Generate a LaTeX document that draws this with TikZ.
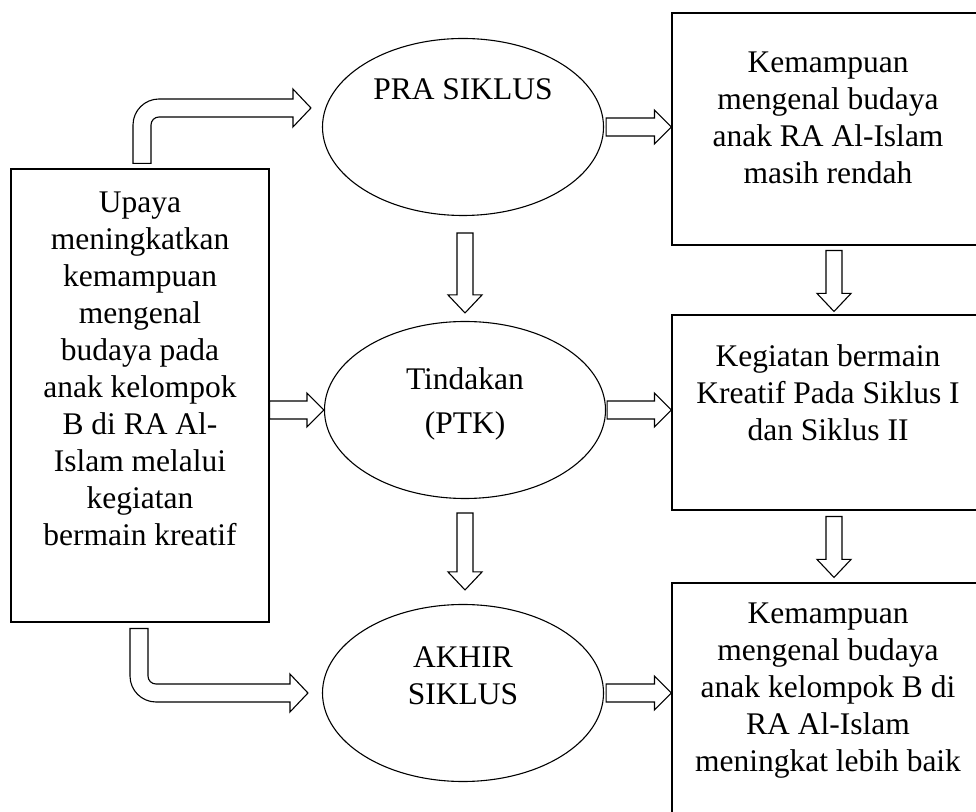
\documentclass[tikz,border=0pt]{standalone}
\usepackage{fontspec}
\setmainfont{Liberation Serif}
\usetikzlibrary{shapes.geometric,calc}

\begin{document}
\begin{tikzpicture}[x=1pt, y=1pt, line width=1.1pt,
	box/.style = {draw, rectangle, inner sep=0pt, minimum width=312pt},
	oval/.style = {draw, ellipse, inner sep=0pt, minimum width=281pt, minimum height=177pt},
	txt/.style = {align=center, inner sep=0pt, font=\fontsize{31.5}{37}\selectfont},
	hollowh/.style = {to path={let \p1=(\tikztostart), \p2=(\tikztotarget) in
		(\x1,{\y1+9}) -- ({\x2-17},{\y1+9}) -- ({\x2-17},{\y1+17}) -- (\x2,\y1)
		-- ({\x2-17},{\y1-17}) -- ({\x2-17},{\y1-9}) -- (\x1,{\y1-9}) -- cycle}},
	hollowv/.style = {to path={let \p1=(\tikztostart), \p2=(\tikztotarget) in
		({\x1-8},\y1) -- ({\x1-8},{\y2+18}) -- ({\x1-17},{\y2+18}) -- (\x1,\y2)
		-- ({\x1+17},{\y2+18}) -- ({\x1+8},{\y2+18}) -- ({\x1+8},\y1) -- cycle}},
	hollowbend/.style = {to path={let \p1=(\tikztostart), \p2=(\tikztotarget) in
		({\x1+9},\y1) -- ({\x1+9},{\y2-(#1)*17})
		arc[start angle=180, end angle={180-90*(#1)}, radius=8pt]
		-- ({\x2-18},{\y2-(#1)*9}) -- ({\x2-18},{\y2-(#1)*19}) -- (\x2,\y2)
		-- ({\x2-18},{\y2+(#1)*19}) -- ({\x2-18},{\y2+(#1)*9}) -- ({\x1+17},{\y2+(#1)*9})
		arc[start angle={90*(#1)}, end angle={180*(#1)}, radius=26pt]
		-- ({\x1-9},\y1) -- cycle}}]

	\useasboundingbox (0,0) rectangle (976,811);
	\clip (0,0) rectangle (976,811);

	\node[box, minimum width=258pt, minimum height=453pt,
		label={[txt, anchor=north, yshift=-23pt]north:Upaya\\meningkatkan\\kemampuan\\mengenal\\budaya pada\\anak kelompok\\B di RA Al-\\Islam melalui\\kegiatan\\bermain kreatif}] (U) at (140,415.5) {};

	\node[oval, label={[txt, yshift=38pt]center:PRA SIKLUS}] (P) at (463,684) {};
	\node[oval, label={[txt, yshift=6pt]center:Tindakan\\[7pt](PTK)}] (T) at (465,401) {};
	\node[oval, label={[txt, yshift=17pt]center:AKHIR\\SIKLUS}] (A) at (463,118) {};

	\node[box, minimum height=232pt,
		label={[txt, anchor=north, yshift=-39pt]north:Kemampuan\\mengenal budaya\\anak RA Al-Islam\\masih rendah}] (K1) at (828,682) {};
	\node[box, minimum height=195pt,
		label={[txt, anchor=north, yshift=-30pt]north:Kegiatan bermain\\Kreatif Pada Siklus I\\dan Siklus II}] (K2) at (828,398.5) {};
	\node[box, minimum height=252pt,
		label={[txt, anchor=north, yshift=-20pt]north:Kemampuan\\mengenal budaya\\anak kelompok B di\\RA Al-Islam\\meningkat lebih baik}] (K3) at (828,102) {};

	\coordinate (pin) at ($(P.west)+(-11,19)$);
	\coordinate (ain) at ($(A.west)+(-14,0)$);

	\draw[hollowbend=1] ($(U.north)+(2,5)$) to (pin);
	\draw[hollowbend=-1] ($(U.south)+(-1,-6)$) to (ain);
	\draw[hollowh] (U.east |- T.west) to (T.west);

	\draw[hollowh] ($(P.east)+(2,0)$) to (K1.west |- P.east);
	\draw[hollowh] ($(T.east)+(1,0)$) to (K2.west |- T.east);
	\draw[hollowh] ($(A.east)+(2,0)$) to (K3.west |- A.east);

	\draw[hollowv] ($(P.south)+(2,-17)$) to ($(T.north)+(0,8)$);
	\draw[hollowv] ($(T.south)+(0,-14)$) to ($(A.north)+(2,14)$);
	\draw[hollowv] ($(K1.south)+(6,-5)$) to ($(K2.north)+(6,3)$);
	\draw[hollowv] ($(K2.south)+(6,-6)$) to ($(K3.north)+(6,5)$);
\end{tikzpicture}
\end{document}
